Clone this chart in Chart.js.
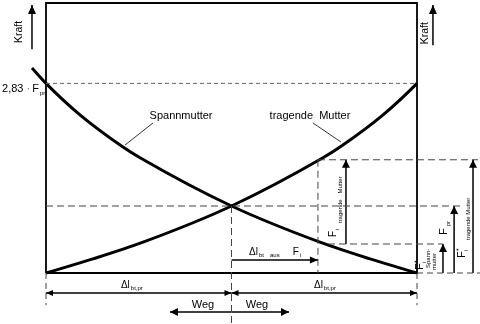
<!DOCTYPE html>
<html><head><meta charset="utf-8">
<style>html,body{margin:0;padding:0;background:#fff;}</style>
<script src="https://cdn.jsdelivr.net/npm/chart.js@4.4.1/dist/chart.umd.min.js"></script>
</head><body>
<canvas id="c" width="480" height="324"></canvas>
<script>
// Weg in units of Δl_bt,pr ; Kraft in units of F_pr
const wegSpann   = [-0.0755, 0, 0.183, 0.415, 0.507, 1, 1.477, 1.747, 2];
const kraftSpann = [3.06, 2.83, 2.36, 1.88, 1.72, 1, 0.46, 0.21, 0];
const wegTrag    = [0, 0.253, 0.523, 1, 1.493, 1.585, 1.817, 2, 2.0755];
const kraftTrag  = [0, 0.21, 0.46, 1, 1.72, 1.88, 2.36, 2.83, 3.06];

const F_PR = 1, F_TOP = 2.83, F_I_TRAG = 1.69, F_I_SPANN = 0.433;
const DL_PR = 1, DL_FI = 0.466;
const X_MIN = 0, X_MAX = 2 * DL_PR, Y_MIN = 0, Y_MAX = 4.03;

const FONT = '"Liberation Sans", Arial, Helvetica, sans-serif';

function line(xs, ys, o) {
  return {
    data: xs.map((x, i) => ({x, y: ys[i]})),
    showLine: true, borderColor: o.c || '#000', borderWidth: o.w || 1,
    borderDash: o.d || [], pointRadius: 0, pointHoverRadius: 0, clip: false,
    fill: false, tension: 0, cubicInterpolationMode: o.mono ? 'monotone' : 'default',
    capBezierPoints: false
  };
}

const arrows = [
  {from: [-0.0755, 3.34], to: [-0.0755, 4.0], len: 9, hw: 4},
  {from: [2.086, 3.40], to: [2.086, 4.0], len: 9, hw: 4},
  {from: [1.617, F_I_SPANN], to: [1.617, F_I_TRAG], len: 8, hw: 4},
  {from: [2.14, 0], to: [2.14, F_I_SPANN], len: 8, hw: 4},
  {from: [2.2, 0], to: [2.2, F_PR], len: 8, hw: 4},
  {from: [2.302, 0], to: [2.302, F_I_TRAG], len: 8, hw: 4},
  {from: [DL_PR, 0.194], to: [DL_PR + DL_FI, 0.194], len: 8, hw: 3.5},
  {from: [0, -0.3], to: [DL_PR, -0.3], len: 7, hw: 3, both: true},
  {from: [DL_PR, -0.3], to: [2 * DL_PR, -0.3], len: 7, hw: 3, both: true},
  {from: [DL_PR, -0.582], to: [0.668, -0.582], len: 8, hw: 4},
  {from: [DL_PR, -0.582], to: [1.31, -0.582], len: 8, hw: 4}
];

const R = -Math.PI / 2;
const labels = [
  {x: -0.143, y: 3.597, rot: R, align: 'center', baseline: 'middle', segs: [{t: 'Kraft', size: 10.5}]},
  {x: 2.043, y: 3.58, rot: R, align: 'center', baseline: 'middle', segs: [{t: 'Kraft', size: 10.5}]},
  {x: -0.237, y: 2.70, segs: [{t: '2,83 ', size: 11}, {t: '·', size: 11, color: '#777'}, {t: 'F', size: 11, gap: 2}, {t: 'pr', size: 6, dy: 3, gap: 1}]},
  {x: 0.728, y: 2.299, align: 'center', segs: [{t: 'Spannmutter', size: 11}]},
  {x: 1.423, y: 2.299, align: 'center', segs: [{t: 'tragende  Mutter', size: 11}]},
  {x: 0.404, y: -0.224, segs: [{t: 'Δl', size: 10}, {t: 'bt,pr', size: 6, dy: 2, gap: 1}]},
  {x: 1.445, y: -0.224, segs: [{t: 'Δl', size: 10}, {t: 'bt,pr', size: 6, dy: 2, gap: 1}]},
  {x: 1.095, y: 0.269, segs: [{t: 'Δl', size: 10}, {t: 'bt', size: 6, dy: 2, gap: 1}, {t: 'aus', size: 6, dy: 2, gap: 6}, {t: 'F', size: 10, gap: 13}, {t: 'i', size: 6, dy: 2, gap: 1}]},
  {x: 0.846, y: -0.522, align: 'center', segs: [{t: 'Weg', size: 11}]},
  {x: 1.137, y: -0.522, align: 'center', segs: [{t: 'Weg', size: 11}]},
  {x: 1.563, y: 0.537, rot: R, segs: [{t: 'F', size: 10}, {t: 'i', size: 6, dy: 3, gap: 0.5}, {t: 'tragende', size: 6, dy: 6, gap: 6}, {t: 'Mutter', size: 6, dy: 6, gap: 6}]},
  {x: 2.032, y: 0.045, rot: R, segs: [{t: 'F', size: 11}, {t: '*', size: 7, dy: -4, at: 7}, {t: 'i', size: 6, dy: 3, at: 7}, {t: 'Spann-', size: 6, dy: 7, at: 2}, {t: 'mutter', size: 6, dy: 13, at: 0}]},
  {x: 2.162, y: 0.567, rot: R, segs: [{t: 'F', size: 11}, {t: 'pr', size: 6, dy: 3, gap: 2}]},
  {x: 2.259, y: 0.224, rot: R, segs: [{t: 'F', size: 11}, {t: '*', size: 7, dy: -4, at: 7}, {t: 'i', size: 6, dy: 3, at: 7}, {t: 'tragende Mutter', size: 6, dy: 5, at: 18}]}
];

function head(ctx, x0, y0, x1, y1, len, hw) {
  const a = Math.atan2(y1 - y0, x1 - x0), c = Math.cos(a), s = Math.sin(a);
  const bx = x1 - len * c, by = y1 - len * s;
  ctx.beginPath();
  ctx.moveTo(x1, y1);
  ctx.lineTo(bx - hw * s, by + hw * c);
  ctx.lineTo(bx + hw * s, by - hw * c);
  ctx.closePath();
  ctx.fill();
}

function drawRich(ctx, x, y, l) {
  ctx.save();
  ctx.translate(x, y);
  if (l.rot) ctx.rotate(l.rot);
  ctx.textBaseline = l.baseline || 'alphabetic';
  ctx.textAlign = 'left';
  let cx = 0, total = 0; const pos = [];
  l.segs.forEach(s => {
    ctx.font = s.size + 'px ' + FONT;
    if (s.at !== undefined) cx = s.at;
    cx += s.gap || 0;
    pos.push(cx);
    cx += ctx.measureText(s.t).width;
    total = Math.max(total, cx);
  });
  const off = l.align === 'center' ? -total / 2 : 0;
  l.segs.forEach((s, i) => {
    ctx.font = s.size + 'px ' + FONT;
    ctx.fillStyle = s.color || '#000';
    ctx.fillText(s.t, pos[i] + off, s.dy || 0);
  });
  ctx.restore();
}

const annot = {
  id: 'annot',
  afterDatasetsDraw(chart) {
    const {ctx} = chart, sx = chart.scales.x, sy = chart.scales.y;
    const X = v => sx.getPixelForValue(v), Y = v => sy.getPixelForValue(v);
    ctx.save();
    ctx.fillStyle = '#000';
    arrows.forEach(a => {
      head(ctx, X(a.from[0]), Y(a.from[1]), X(a.to[0]), Y(a.to[1]), a.len, a.hw);
      if (a.both) head(ctx, X(a.to[0]), Y(a.to[1]), X(a.from[0]), Y(a.from[1]), a.len, a.hw);
    });
    labels.forEach(l => drawRich(ctx, X(l.x), Y(l.y), l));
    ctx.restore();
  }
};

const DASH = [7, 4], DC = '#444';
const datasets = [
  // dashed guide lines
  line([X_MIN, X_MAX], [F_TOP, F_TOP], {c: '#666', d: [4, 3], w: 1}),
  line([X_MIN, 2.232], [F_PR, F_PR], {c: DC, d: DASH}),
  line([DL_PR + DL_FI, 2.329], [F_I_TRAG, F_I_TRAG], {c: DC, d: DASH}),
  line([1.52, 2.14], [F_I_SPANN, F_I_SPANN], {c: DC, d: DASH}),
  line([DL_PR + DL_FI, DL_PR + DL_FI], [F_I_TRAG, 0], {c: DC, d: DASH}),
  line([DL_PR, DL_PR], [F_PR, -0.76], {c: DC, d: DASH}),
  line([X_MIN, X_MIN], [0, -0.48], {c: DC, d: [6, 4]}),
  line([X_MAX, X_MAX], [0, -0.48], {c: DC, d: [6, 4]}),
  line([X_MAX, 2.34], [0, 0], {c: DC, d: [6, 4]}),
  // frame
  line([X_MIN, X_MIN, X_MAX, X_MAX, X_MIN], [Y_MIN, Y_MAX, Y_MAX, Y_MIN, Y_MIN], {w: 1.8}),
  // curves
  line(wegSpann, kraftSpann, {w: 3, mono: true}),
  line(wegTrag, kraftTrag, {w: 3, mono: true}),
  // leader lines
  line([0.577, 0.426], [2.24, 1.91], {w: 0.8}),
  line([1.439, 1.590], [2.24, 1.955], {w: 0.8}),
  // arrow shafts
  ...arrows.map(a => line([a.from[0], a.to[0]], [a.from[1], a.to[1]], {w: 1.5}))
];

new Chart(document.getElementById('c'), {
  type: 'scatter',
  data: {datasets},
  options: {
    responsive: false, animation: false, events: [],
    layout: {padding: {left: 46, right: 63, top: 3, bottom: 51}},
    plugins: {legend: {display: false}, tooltip: {enabled: false}},
    scales: {
      x: {type: 'linear', min: X_MIN, max: X_MAX, display: false},
      y: {type: 'linear', min: Y_MIN, max: Y_MAX, display: false}
    }
  },
  plugins: [annot]
});
</script>
</body></html>
